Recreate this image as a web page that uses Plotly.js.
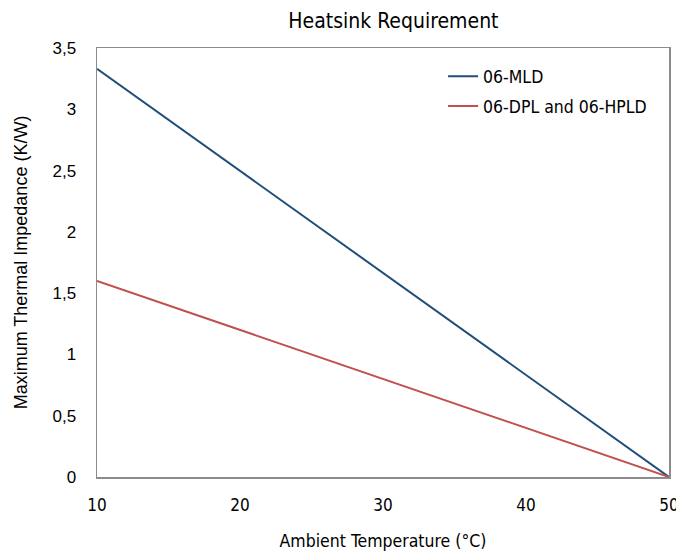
<!DOCTYPE html>
<html><head><meta charset="utf-8">
<script src="https://cdn.plot.ly/plotly-3.0.1.min.js"></script>
<style>body{margin:0;background:#fff}#chart{width:676px;height:551px}</style>
</head><body><div id="chart"></div>
<script>
const temps = [10, 50];
const mld = [3.33, 0];
const dplHpld = [1.6, 0];
const seriesNames = ['06-MLD', '06-DPL and 06-HPLD'];
const narrow = '"DejaVu Sans Condensed", "Liberation Sans", Arial, sans-serif';
const sans = '"Liberation Sans", Arial, sans-serif';
const data = [
  {x: temps, y: mld, name: seriesNames[0], legendgroup: 'a', mode: 'lines', line: {color: '#1f4e79', width: 2}},
  {x: temps, y: dplHpld, name: seriesNames[1], legendgroup: 'b', mode: 'lines', line: {color: '#c0504d', width: 2}}
];
const layout = {
  width: 676, height: 551,
  margin: {l: 97, r: 7, t: 48, b: 74},
  paper_bgcolor: '#fff', plot_bgcolor: '#fff',
  separators: ',.',
  title: {text: 'Heatsink Requirement', font: {family: narrow, size: 21, color: '#000'}, x: 0.582, xanchor: 'center', y: 0.963, yanchor: 'middle'},
  xaxis: {range: [10, 50], dtick: 10, showgrid: false, zeroline: false, showline: true, mirror: true, linecolor: '#8c8c8c', linewidth: 1.5,
    ticks: '', ticklabelstandoff: 12, ticklabeloverflow: 'allow', tickfont: {family: narrow, size: 17, color: '#000'},
    title: {text: 'Ambient Temperature (°C)', font: {family: narrow, size: 17.5, color: '#000'}, standoff: 24}},
  yaxis: {range: [0, 3.5], dtick: 0.5, showgrid: false, zeroline: false, showline: true, mirror: true, linecolor: '#8c8c8c', linewidth: 1.5,
    ticks: '', ticklabelstandoff: 16, tickfont: {family: sans, size: 17, color: '#000'},
    title: {text: 'Maximum Thermal Impedance (K/W)', font: {family: sans, size: 18, color: '#000'}, standoff: 20}},
  legend: {x: 0.605, y: 0.976, xanchor: 'left', yanchor: 'top', traceorder: 'grouped', bgcolor: 'rgba(0,0,0,0)', font: {family: narrow, size: 17.5, color: '#000'}, itemwidth: 30, tracegroupgap: 4}
};
Plotly.newPlot('chart', data, layout, {displayModeBar: false, staticPlot: true});
</script></body></html>
